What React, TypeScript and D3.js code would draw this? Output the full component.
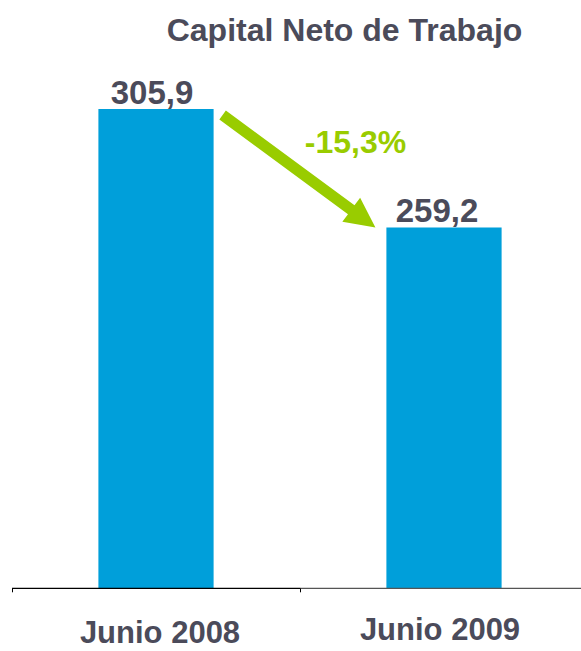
import React from "react";
import * as d3 from "d3";

const categories = ["Junio 2008", "Junio 2009"];
const values = [305.9, 259.2];
const valueLabels = ["305,9", "259,2"];
const changeLabel = "-15,3%";
const title = "Capital Neto de Trabajo";
const yMin = 117;

const W = 581;
const H = 651;
const TEXT = "#4b4b5a";
const BLUE = "#009fda";
const GREEN = "#99cc00";
const FONT = "'Liberation Sans', Arial, sans-serif";

export default function App() {
  const x = d3.scaleBand<string>().domain(categories).range([12, 588]).paddingInner(0.6).paddingOuter(0.3);
  const y = d3.scaleLinear().domain([yMin, values[0]]).range([588.3, 109]);
  const base = y(yMin);

  // arrow from bar 1 top-right to bar 2 top-left
  const x0 = (x(categories[0]) as number) + x.bandwidth() + 9;
  const y0 = y(values[0]) + 6;
  const x1 = (x(categories[1]) as number) - 11;
  const y1 = y(values[1]);
  const dx = x1 - x0, dy = y1 - y0;
  const len = Math.hypot(dx, dy);
  const ux = dx / len, uy = dy / len;
  const nx = -uy, ny = ux;
  const sw = 5.5, hw = 15, hl = 30;
  const bx = x1 - ux * hl, by = y1 - uy * hl;
  const pts: [number, number][] = [
    [x0 + nx * sw, y0 + ny * sw],
    [bx + nx * sw, by + ny * sw],
    [bx + nx * hw, by + ny * hw],
    [x1, y1],
    [bx - nx * hw, by - ny * hw],
    [bx - nx * sw, by - ny * sw],
    [x0 - nx * sw, y0 - ny * sw],
  ];
  const labelOffsets = [-4, -7];
  const catY = [643, 640];

  return (
    <svg width={W} height={H} style={{ position: "absolute", left: 0, top: 0 }} fontFamily={FONT}>
      <text x={344.5} y={41} textAnchor="middle" fontSize={32} fontWeight="bold" fill={TEXT}>
        {title}
      </text>
      {categories.map((c, i) => (
        <g key={c}>
          <rect x={x(c)} y={y(values[i])} width={x.bandwidth()} height={base - y(values[i])} fill={BLUE} />
          <text
            x={(x(c) as number) + x.bandwidth() / 2 + labelOffsets[i]}
            y={y(values[i]) - 5}
            textAnchor="middle"
            fontSize={33}
            fontWeight="bold"
            fill={TEXT}
          >
            {valueLabels[i]}
          </text>
          <text
            x={(x(c) as number) + x.bandwidth() / 2 + (i === 0 ? 4 : -4)}
            y={catY[i]}
            textAnchor="middle"
            fontSize={31}
            fontWeight="bold"
            fill={TEXT}
          >
            {c}
          </text>
        </g>
      ))}
      <line x1={12} x2={300.5} y1={base} y2={base} stroke="#000" strokeWidth={1.3} />
      <line x1={300.5} x2={W} y1={base} y2={base} stroke="#555" strokeWidth={1.3} />
      <line x1={12.5} x2={12.5} y1={base} y2={base + 4} stroke="#000" strokeWidth={1} />
      <line x1={300.5} x2={300.5} y1={base} y2={base + 4} stroke="#000" strokeWidth={1} />
      <polygon points={pts.map((p) => p.join(",")).join(" ")} fill={GREEN} />
      <text x={355.5} y={153} textAnchor="middle" fontSize={32} fontWeight="bold" fill={GREEN}>
        {changeLabel}
      </text>
    </svg>
  );
}
